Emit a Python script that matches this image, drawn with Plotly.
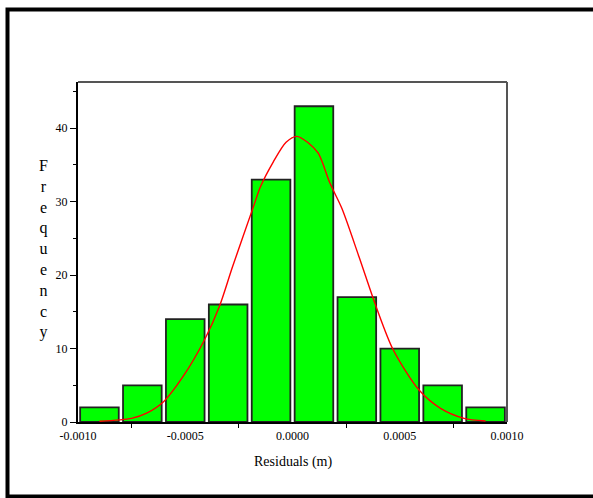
import plotly.graph_objects as go

# Histogram bins (centers) and counts
bin_centers = [-0.0009, -0.0007, -0.0005, -0.0003, -0.0001,
               0.0001, 0.0003, 0.0005, 0.0007, 0.0009]
counts = [2, 5, 14, 16, 33, 43, 17, 10, 5, 2]

# Fitted curve, points
curve_x = [-0.00090, -0.00075, -0.00068, -0.00060, -0.00051, -0.00041, -0.00034,
           -0.00028, -0.00018, -0.00015, -0.00009, -0.00003, 0.00002, 0.00007,
           0.00012, 0.000175, 0.00023, 0.00031, 0.00039, 0.00047, 0.00059,
           0.00069, 0.00080, 0.00090]
curve_y = [0.1, 0.5, 1.2, 2.8, 6.2, 11.2, 15.8,
           21.1, 29.5, 32.0, 35.4, 38.1, 38.9, 38.1,
           36.6, 32.5, 29.1, 22.5, 15.7, 9.8, 4.35,
           1.86, 0.5, 0.14]

x_tickvals = [-0.0010, -0.0005, 0.0, 0.0005, 0.0010]
x_ticktext = ["-0.0010", "-0.0005", "0.0000", "0.0005", "0.0010"]
x_minor = [-0.00075, -0.00025, 0.00025, 0.00075]
y_tickvals = [0, 10, 20, 30, 40]
y_minor = [5, 15, 25, 35, 45]

FONT = "Liberation Serif"

fig = go.Figure()
fig.add_trace(go.Bar(
    x=bin_centers, y=counts, width=0.00018,
    marker=dict(color="#00FF00", line=dict(color="#222222", width=1.8)),
    showlegend=False, hoverinfo="skip",
))
fig.add_trace(go.Scatter(
    x=curve_x, y=curve_y, mode="lines",
    line=dict(color="#FF0000", width=1.4, shape="spline", smoothing=0.8),
    showlegend=False, hoverinfo="skip",
))

W, H = 593, 498
L, R, T, B = 78, 507, 82, 422
pw, ph = R - L, B - T

def px2paper_x(px):
    return (px - L) / pw

def px2paper_y(py):
    return (B - py) / ph

fig.update_layout(
    width=W, height=H,
    margin=dict(l=L, r=W - R, t=T, b=H - B),
    paper_bgcolor="white", plot_bgcolor="white",
    font=dict(family=FONT, size=12, color="black"),
    xaxis=dict(
        range=[-0.0010, 0.0010], showgrid=False, zeroline=False,
        showline=True, linecolor="black", linewidth=2,
        tickmode="array", tickvals=x_tickvals, ticktext=x_ticktext,
        ticks="outside", ticklen=2, tickcolor="rgba(0,0,0,0)",
        tickfont=dict(family=FONT, size=12, color="black"),
        minor=dict(tickmode="array", tickvals=x_minor, ticks="outside",
                   ticklen=4, tickwidth=1, tickcolor="black", showgrid=False),
    ),
    yaxis=dict(
        range=[0, 46.3], showgrid=False, zeroline=False,
        showline=True, linecolor="black", linewidth=2,
        tickmode="array", tickvals=y_tickvals,
        ticks="outside", ticklen=6, tickwidth=1, tickcolor="black",
        tickfont=dict(family=FONT, size=12, color="black"),
        minor=dict(tickmode="array", tickvals=y_minor, ticks="outside",
                   ticklen=3, tickwidth=1, tickcolor="black", showgrid=False),
    ),
    bargap=0.1,
    shapes=[
        # top and right border of plot area
        dict(type="line", xref="paper", yref="paper", x0=0, y0=1, x1=1, y1=1,
             line=dict(color="#555555", width=2)),
        dict(type="line", xref="paper", yref="paper", x0=1, y0=0, x1=1, y1=1,
             line=dict(color="#555555", width=2)),
        # outer frame
        dict(type="rect", xref="paper", yref="paper",
             x0=px2paper_x(7.5), x1=px2paper_x(610),
             y0=px2paper_y(496.5), y1=px2paper_y(9.5),
             line=dict(color="black", width=4), fillcolor="rgba(0,0,0,0)"),
    ],
    annotations=[
        dict(text="Residuals (m)", xref="paper", yref="paper",
             x=px2paper_x(293), y=px2paper_y(462), xanchor="center", yanchor="middle",
             showarrow=False, font=dict(family=FONT, size=14, color="black")),
        dict(text="<br>".join(list("Frequency")), xref="paper", yref="paper",
             x=px2paper_x(43), y=px2paper_y(249), xanchor="center", yanchor="middle",
             showarrow=False, font=dict(family=FONT, size=16, color="black")),
    ],
)

fig.write_html("out.html")
